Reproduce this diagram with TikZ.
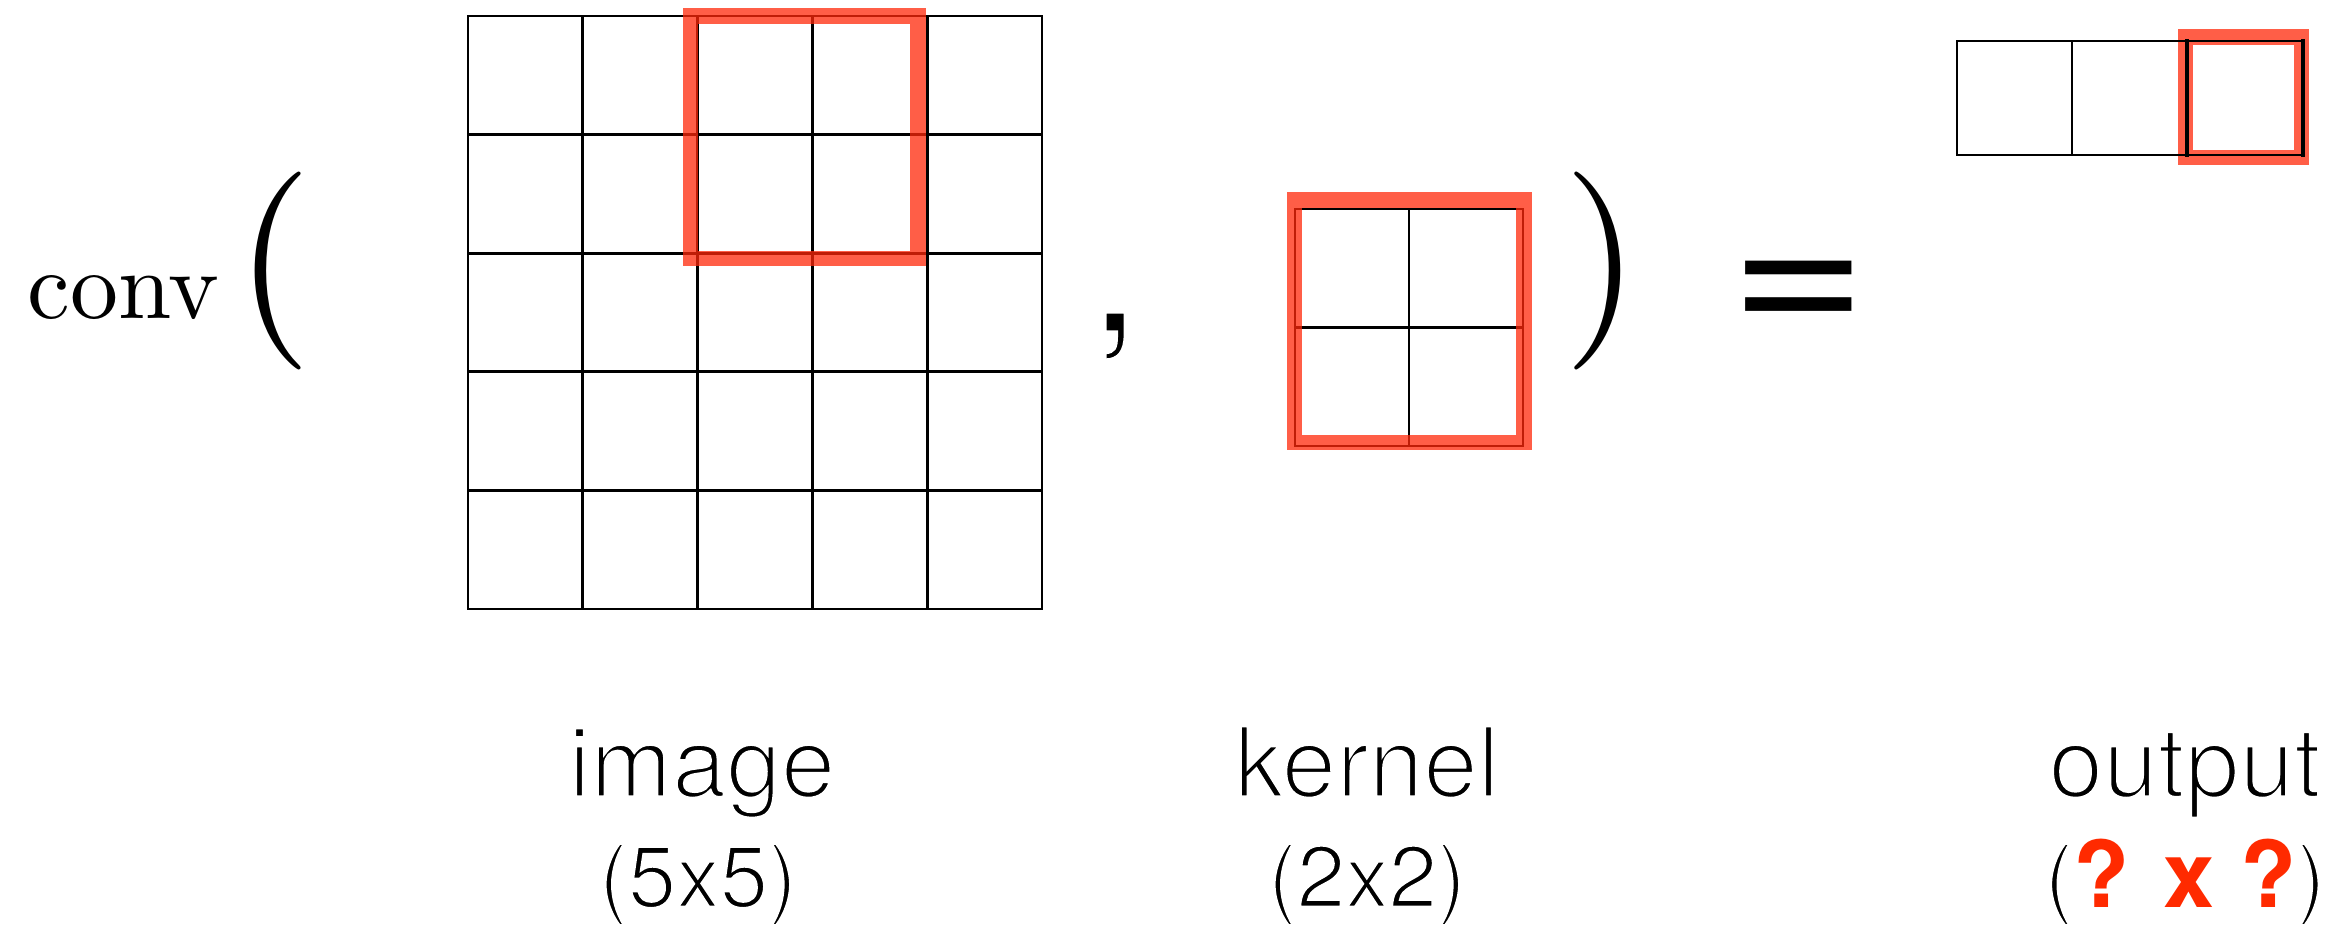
\documentclass[tikz,border=0pt]{standalone}
\usepackage{fontspec}
\usepackage{graphicx}
\newfontfamily\helv{TeX Gyre Heros}
\newfontfamily\lmten{lmroman10-regular}[Extension=.otf]
\definecolor{boxred}{RGB}{255,40,10}
\definecolor{qred}{RGB}{255,42,0}
% thin a glyph run by a white outline stroke of the given width (bp)
\newcommand{\thintext}[2][1.7]{\special{pdf:literal direct q 2 Tr 1 1 1 RG #1 w}#2\special{pdf:literal direct Q}}
\begin{document}
\begin{tikzpicture}[x=0.5pt,y=-0.5pt,
  gridline/.style={line width=1.35pt, draw=black, line cap=rect},
  thickline/.style={line width=2.3pt, draw=black, line cap=rect},
  redbox/.style={draw=boxred, draw opacity=0.75, line width=7.8pt},
  txt/.style={inner sep=0pt, anchor=base},
  labelone/.style={txt, font=\helv\fontsize{49}{49}\selectfont},
  labeltwo/.style={txt, font=\helv\fontsize{43.5}{43.5}\selectfont},
]
\useasboundingbox (0,0) rectangle (2338,931);

% image grid 5x5
\foreach \i in {0,...,5}{
  \pgfmathsetmacro\xx{468+114.8*\i}
  \pgfmathsetmacro\yy{16+118.6*\i}
  \draw[gridline] (\xx,16) -- (\xx,609);
  \draw[gridline] (468,\yy) -- (1042,\yy);
}
\draw[redbox] (690.5,16) rectangle (918,258.5);

% kernel grid 2x2
\foreach \i in {0,1,2}{
  \pgfmathsetmacro\xx{1295+114*\i}
  \pgfmathsetmacro\yy{209+118.5*\i}
  \draw[gridline] (\xx,209) -- (\xx,446);
  \draw[gridline] (1295,\yy) -- (1523,\yy);
}
\draw[redbox] (1294.5,200) rectangle (1524,442.5);

% output grid 1x3
\draw[redbox] (2185.5,37) rectangle (2301.5,157.5);
\draw[gridline] (1957,41) -- (2303,41);
\draw[gridline] (1957,155) -- (2303,155);
\draw[gridline] (1957,41) -- (1957,155);
\draw[gridline] (2072,41) -- (2072,155);
\draw[thickline] (2187,41) -- (2187,155);
\draw[thickline] (2303,41) -- (2303,155);

% formula symbols
\node[txt, anchor=base west, font=\lmten\fontsize{48}{48}\selectfont] (conv) at (27,318) {conv};
\node[txt, font=\lmten\fontsize{99}{99}\selectfont] (lpar) at (274.5,320) {(};
\node[txt, font=\lmten\fontsize{99}{99}\selectfont] (rpar) at (1602,320) {)};
\node[txt, font=\helv\fontsize{95}{95}\selectfont] (comma) at (1115,332) {\thintext[1.5]{,}};
\node[txt, font=\helv\fontsize{100.5}{100.5}\selectfont] (eq) at (1799,336) {\scalebox{1.18}[1]{=}};

% labels
\node[labelone] (imglbl) at (702,797) {\thintext{image}};
\node[labeltwo] (imgdim) at (698,907) {\thintext[1.3]{(5x5)}};
\node[labelone] (kerlbl) at (1367,797) {\thintext{kernel}};
\node[labeltwo] (kerdim) at (1367,907) {\thintext[1.3]{(2x2)}};
\node[labelone] (outlbl) at (2185,797) {\thintext{output}};
\node[labeltwo] (outdim) at (2185,907) {\thintext[1.3]{(}\textcolor{qred}{\bfseries\fontsize{46}{46}\selectfont ? x ?}\thintext[1.3]{)}};
\end{tikzpicture}
\end{document}
